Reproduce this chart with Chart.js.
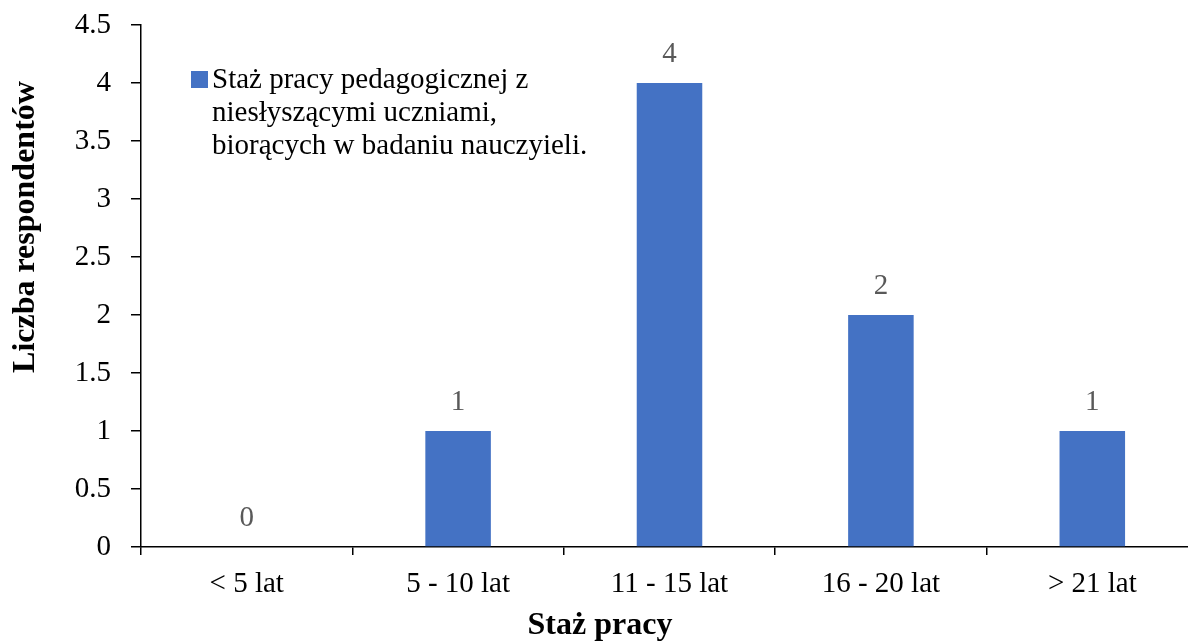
<!DOCTYPE html>
<html>
<head>
<meta charset="utf-8">
<script src="https://cdn.jsdelivr.net/npm/chart.js@4"></script>
<style>
    html, body { margin: 0; padding: 0; background: #fff; overflow: hidden; }
    #wrap { width: 1200px; height: 644px; }
</style>
</head>
<body>
<div id="wrap"><canvas id="chart"></canvas></div>
<script>
const categories  = ['< 5 lat', '5 - 10 lat', '11 - 15 lat', '16 - 20 lat', '> 21 lat'];
const respondents = [0, 1, 4, 2, 1];
const legendLines = ['Staż pracy pedagogicznej z', 'niesłyszącymi uczniami,', 'biorących w badaniu nauczyieli.'];
const yTitle = 'Liczba respondentów';
const xTitle = 'Staż pracy';

const FONT = '"Liberation Serif", "Times New Roman", serif';
const BLUE = '#4472C4';
const TXT = 29;

// value labels above bars + legend box + axis titles (Excel-style placement)
const extras = {
    id: 'extras',
    afterDatasetsDraw(chart) {
        const { ctx, chartArea } = chart;
        const meta = chart.getDatasetMeta(0);
        ctx.save();
        ctx.fillStyle = '#595959';
        ctx.font = `${TXT}px ${FONT}`;
        ctx.textAlign = 'center';
        ctx.textBaseline = 'alphabetic';
        meta.data.forEach((bar, i) => {
            ctx.fillText(String(respondents[i]), bar.x, bar.y - 21);
        });

        // legend
        const lx = chartArea.left + 50, ly = chartArea.top + 63;
        ctx.fillStyle = BLUE;
        ctx.fillRect(lx, ly - 17, 17, 17);
        ctx.fillStyle = '#000';
        ctx.textAlign = 'left';
        legendLines.forEach((t, i) => ctx.fillText(t, lx + 21, ly + i * 33));

        // axis titles
        ctx.font = `bold 32px ${FONT}`;
        ctx.textAlign = 'center';
        ctx.textBaseline = 'middle';
        ctx.fillText(xTitle, 600, 626);
        ctx.translate(26, 227);
        ctx.rotate(-Math.PI / 2);
        ctx.fillText(yTitle, 0, 0);
        ctx.restore();
    }
};

new Chart(document.getElementById('chart'), {
    type: 'bar',
    data: {
        labels: categories,
        datasets: [{
            label: legendLines.join(' '),
            data: respondents,
            backgroundColor: BLUE,
            barPercentage: 0.31,
            categoryPercentage: 1,
        }]
    },
    options: {
        responsive: true,
        maintainAspectRatio: false,
        animation: false,
        layout: { padding: { top: 25, right: 2, left: 0, bottom: 0 } },
        plugins: { legend: { display: false }, tooltip: { enabled: false } },
        scales: {
            x: {
                afterFit: s => { s.height = 97; s.paddingLeft = 0; s.paddingRight = 0; },
                border: { color: '#000', width: 1.5 },
                grid: { display: true, drawOnChartArea: false, offset: true, tickLength: 8, color: '#000', lineWidth: 1.5 },
                ticks: { color: '#000', font: { family: FONT, size: TXT }, padding: 12, maxRotation: 0 },
            },
            y: {
                min: 0, max: 4.5,
                afterFit: s => { s.width = 141; s.paddingTop = 0; s.paddingBottom = 0; },
                border: { color: '#000', width: 1.5 },
                grid: { display: true, drawOnChartArea: false, tickLength: 10, color: '#000', lineWidth: 1.5 },
                ticks: { stepSize: 0.5, color: '#000', font: { family: FONT, size: TXT }, padding: 20,
                         callback: v => String(v) },
            }
        }
    },
    plugins: [extras]
});
</script>
</body>
</html>
